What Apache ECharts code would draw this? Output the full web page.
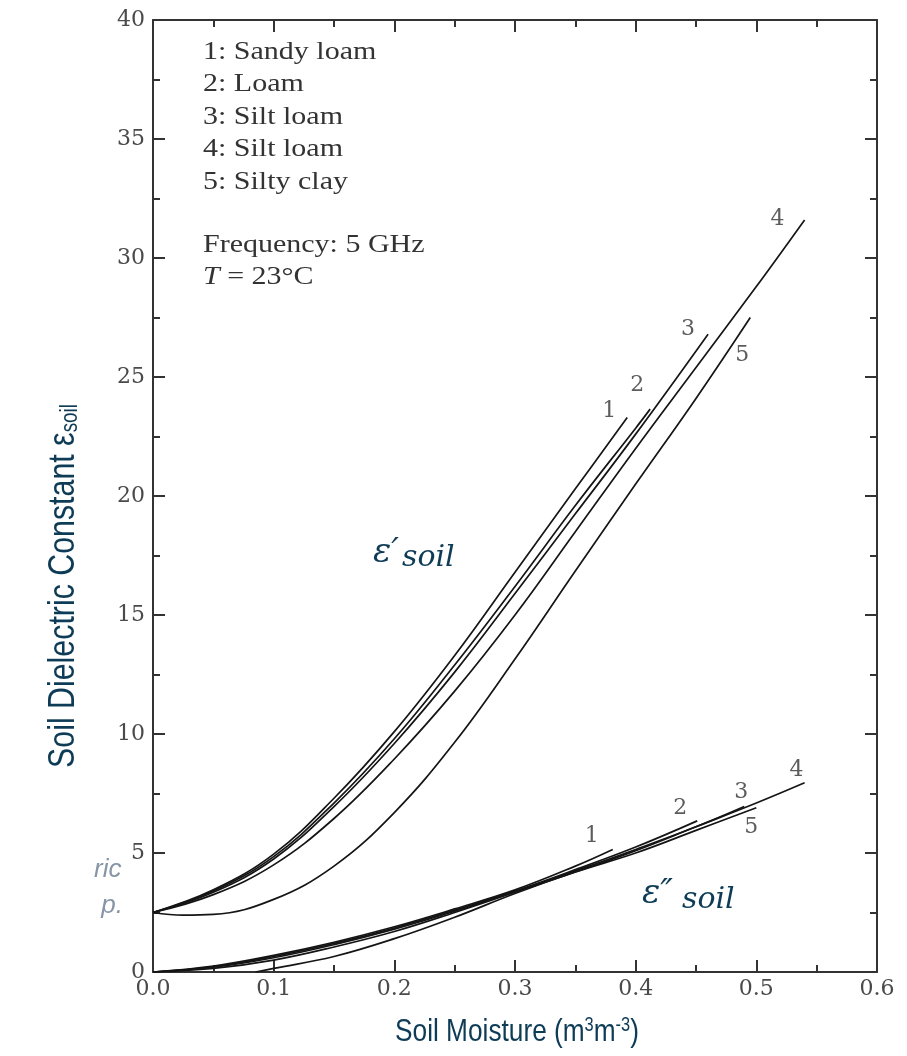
<!DOCTYPE html>
<html>
<head>
<meta charset="utf-8">
<script src="https://cdn.jsdelivr.net/npm/echarts@6/dist/echarts.min.js"></script>
<style>
  html, body { margin: 0; padding: 0; background: #fff; }
  #chart { width: 907px; height: 1056px; }
</style>
</head>
<body>
<div id="chart"></div>
<script>
// soil moisture (m3/m3) sample points, one list per curve
const mvSandy = [0, 0.05, 0.1, 0.15, 0.2, 0.25, 0.3, 0.35, 0.393];
const mvLoam = [0, 0.05, 0.1, 0.15, 0.2, 0.25, 0.3, 0.35, 0.4, 0.412];
const mvSilt3 = [0, 0.05, 0.1, 0.15, 0.2, 0.25, 0.3, 0.35, 0.4, 0.46];
const mvSilt4 = [0, 0.05, 0.1, 0.15, 0.2, 0.25, 0.3, 0.35, 0.4, 0.45, 0.5, 0.54];
const mvClay = [0, 0.025, 0.05, 0.1, 0.15, 0.2, 0.25, 0.3, 0.35, 0.4, 0.45, 0.495];

// real part eps'
const realSandy = [2.5, 3.45, 4.95, 7.3, 10.1, 13.3, 16.8, 20.3, 23.3];
const realLoam = [2.5, 3.4, 4.85, 7.1, 9.8, 12.9, 16.2, 19.6, 22.85, 23.65];
const realSilt3 = [2.5, 3.35, 4.75, 6.95, 9.6, 12.6, 15.9, 19.25, 22.6, 26.8];
const realSilt4 = [2.5, 3.25, 4.5, 6.45, 8.95, 11.8, 15.0, 18.5, 22.0, 25.4, 28.8, 31.6];
const realClay = [2.5, 2.39, 2.42, 3.05, 4.45, 6.7, 9.65, 13.15, 16.85, 20.5, 24.1, 27.5];

// imaginary part eps''
const imMvSandy = [0, 0.05, 0.1, 0.15, 0.2, 0.25, 0.3, 0.35, 0.381];
const imMvLoam = [0, 0.05, 0.1, 0.15, 0.2, 0.25, 0.3, 0.35, 0.4, 0.451];
const imMvSilt3 = [0, 0.05, 0.1, 0.15, 0.2, 0.25, 0.3, 0.35, 0.4, 0.45, 0.49];
const imMvSilt4 = [0, 0.05, 0.1, 0.15, 0.2, 0.25, 0.3, 0.35, 0.4, 0.45, 0.5, 0.54];
const imMvClay = [0.085, 0.1, 0.15, 0.2, 0.25, 0.3, 0.35, 0.4, 0.45, 0.5];

const imagSandy = [0, 0.25, 0.7, 1.25, 1.9, 2.65, 3.45, 4.45, 5.15];
const imagLoam = [0, 0.22, 0.65, 1.2, 1.85, 2.6, 3.4, 4.3, 5.25, 6.35];
const imagSilt3 = [0, 0.2, 0.6, 1.15, 1.8, 2.55, 3.38, 4.25, 5.15, 6.1, 6.95];
const imagSilt4 = [0, 0.15, 0.5, 1.05, 1.7, 2.5, 3.35, 4.2, 5.1, 6.1, 7.1, 7.95];
const imagClay = [0, 0.15, 0.65, 1.4, 2.3, 3.3, 4.2, 5.0, 5.95, 6.9];

const soilNames = ['1: Sandy loam', '2: Loam', '3: Silt loam', '4: Silt loam', '5: Silty clay'];
const curveTags = ['1', '2', '3', '4', '5'];
const xTicks = [0, 0.1, 0.2, 0.3, 0.4, 0.5, 0.6];
const yTicks = [0, 5, 10, 15, 20, 25, 30, 35, 40];

const zip = (xs, ys) => xs.map((x, i) => [x, ys[i]]);

const realCurves = [
  zip(mvSandy, realSandy), zip(mvLoam, realLoam), zip(mvSilt3, realSilt3),
  zip(mvSilt4, realSilt4), zip(mvClay, realClay)
];
const imagCurves = [
  zip(imMvSandy, imagSandy), zip(imMvLoam, imagLoam), zip(imMvSilt3, imagSilt3),
  zip(imMvSilt4, imagSilt4), zip(imMvClay, imagClay)
];

// label nudges (px) next to each curve end
const realTagOffset = [[-18, -6], [-13, -24], [-20, -5], [-27, -1], [-8, 38]];
const imagTagOffset = [[-21, -13], [-17, -13], [-3, -14], [-8, -13], [-5, 20]];

const serif = 'DejaVu Serif';
const tickFont = { fontFamily: serif, fontSize: 22, color: '#4a4a4a' };
const titleColor = '#0e3b56';
const axisLine = { show: true, onZero: false, lineStyle: { color: '#333', width: 2 } };

const lineSeries = (d, name) => ({
  type: 'line', name: name, data: d, smooth: 0.4, showSymbol: false, symbol: 'none',
  lineStyle: { color: '#151515', width: 1.7 }, z: 3, silent: true
});

const tagSeries = (curves, offsets) => ({
  type: 'scatter', symbolSize: 0, silent: true, z: 4,
  data: curves.map((c, i) => ({
    value: c[c.length - 1],
    label: { show: true, formatter: curveTags[i], offset: offsets[i] }
  })),
  label: { position: 'inside', fontFamily: serif, fontSize: 22, color: '#333' }
});

const chart = echarts.init(document.getElementById('chart'));
const series = [];
realCurves.forEach((c, i) => series.push(lineSeries(c, 'real ' + soilNames[i])));
imagCurves.forEach((c, i) => series.push(lineSeries(c, 'imag ' + soilNames[i])));
series.push(tagSeries(realCurves, realTagOffset));
series.push(tagSeries(imagCurves, imagTagOffset));

const tickStyle = { color: '#333', width: 2 };
const xBase = {
  type: 'value', min: xTicks[0], max: xTicks[xTicks.length - 1], interval: 0.1,
  axisLine: axisLine, splitLine: { show: false },
  axisTick: { inside: true, length: 12, lineStyle: tickStyle },
  minorTick: { show: true, splitNumber: 2, length: 7, lineStyle: tickStyle }
};
const yBase = {
  type: 'value', min: yTicks[0], max: yTicks[yTicks.length - 1], interval: 5,
  axisLine: axisLine, splitLine: { show: false },
  axisTick: { inside: true, length: 12, lineStyle: tickStyle },
  minorTick: { show: true, splitNumber: 2, length: 7, lineStyle: tickStyle }
};

const epsText = (x, y, txt, size) => ({
  type: 'text', x: x, y: y, silent: true,
  style: { text: txt, font: 'italic ' + size + 'px "DejaVu Serif"', fill: titleColor }
});

chart.setOption({
  animation: false,
  backgroundColor: '#fff',
  grid: { left: 153, right: 30, top: 20, bottom: 84 },
  xAxis: [
    Object.assign({}, xBase, {
      position: 'bottom',
      axisLabel: Object.assign({ margin: 6, formatter: v => v.toFixed(1) }, tickFont)
    }),
    Object.assign({}, xBase, { position: 'top', axisLabel: { show: false } })
  ],
  yAxis: [
    Object.assign({}, yBase, {
      position: 'left',
      axisLabel: Object.assign({ margin: 8 }, tickFont)
    }),
    Object.assign({}, yBase, { position: 'right', axisLabel: { show: false } })
  ],
  series: series,
  graphic: [
    {
      type: 'text', x: 203, y: 36, scaleX: 1.2, silent: true,
      style: { text: soilNames.join('\n'), font: '25px "Liberation Serif"', fill: '#333', lineHeight: 32.5 }
    },
    {
      type: 'text', x: 203, y: 229, scaleX: 1.2, silent: true,
      style: {
        text: 'Frequency: 5 GHz\n{i|T} = 23°C',
        font: '25px "Liberation Serif"', fill: '#333', lineHeight: 32,
        rich: { i: { fontFamily: 'Liberation Serif', fontStyle: 'italic', fontSize: 25, fill: '#333' } }
      }
    },
    {
      // x axis title (narrow sans)
      type: 'text', x: 517, y: 1032, scaleX: 0.82, silent: true,
      style: {
        text: 'Soil Moisture (m{sup|3}m{sup|-3})',
        font: '32px "Liberation Sans"', fill: titleColor, align: 'center', verticalAlign: 'middle',
        rich: { sup: { fontFamily: 'Liberation Sans', fontSize: 20, fill: titleColor, verticalAlign: 'top', padding: [0, 0, 14, 0] } }
      }
    },
    {
      // y axis title
      type: 'text', x: 64, y: 586, rotation: Math.PI / 2, scaleX: 0.82, silent: true,
      style: {
        text: 'Soil Dielectric Constant ε{sub|soil}',
        font: '37px "Liberation Sans"', fill: titleColor, align: 'center', verticalAlign: 'middle',
        rich: { sub: { fontFamily: 'Liberation Sans', fontSize: 23, fill: titleColor, verticalAlign: 'bottom', padding: [14, 0, 0, 0] } }
      }
    },
    epsText(373, 536, 'ε′', 34),
    epsText(402, 543, 'soil', 30),
    epsText(642, 877, 'ε″', 34),
    epsText(682, 885, 'soil', 30),
    {
      type: 'text', left: 94, top: 852, silent: true,
      style: { text: 'ric\n p.', font: 'italic 26px "Liberation Sans"', fill: '#8796a6', lineHeight: 36 }
    }
  ]
});
</script>
</body>
</html>
